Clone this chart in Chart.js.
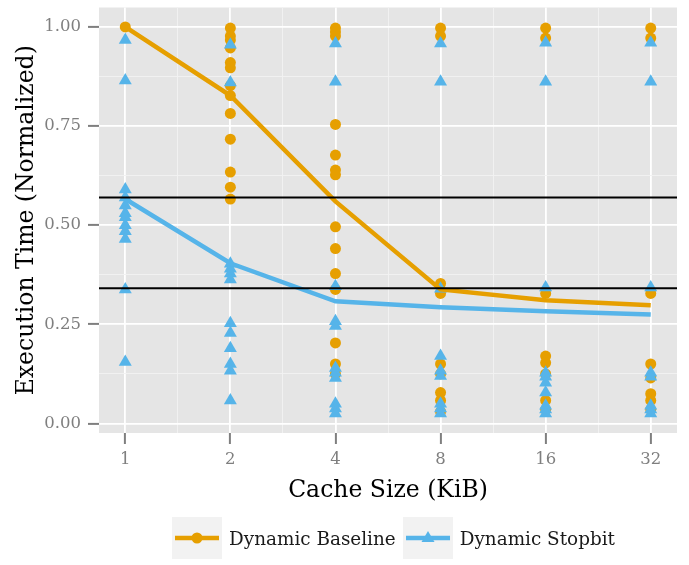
<!DOCTYPE html>
<html>
<head>
<meta charset="utf-8">
<script src="https://cdn.jsdelivr.net/npm/chart.js@4"></script>
<style>
  html, body { margin: 0; padding: 0; background: #fff; }
  #wrap { position: relative; width: 689px; height: 565px; }
  #legend { position: absolute; left: 172px; top: 517px; display: flex; align-items: center;
    font-family: 'DejaVu Serif', serif; font-size: 18.4px; color: #1a1a1a; }
  .key { width: 50px; height: 42px; margin-right: 7px; }
  .item { display: flex; align-items: center; margin-right: 7px; }
</style>
</head>
<body>
<div id="wrap">
  <canvas id="chart" width="689" height="565"></canvas>
  <div id="legend"></div>
</div>
<script>
const cacheSizes = [1, 2, 4, 8, 16, 32];
const yTicks = [0, 0.25, 0.5, 0.75, 1.0];
const refLines = [0.570, 0.341];

// individual runs, one list per cache size
const baselineRuns = [
  [1.0],
  [0.997, 0.977, 0.967, 0.947, 0.910, 0.897, 0.852, 0.827, 0.782, 0.717, 0.634, 0.596, 0.566],
  [0.997, 0.987, 0.977, 0.754, 0.677, 0.639, 0.627, 0.496, 0.441, 0.378, 0.338, 0.203, 0.150, 0.125],
  [0.997, 0.977, 0.353, 0.328, 0.150, 0.125, 0.078, 0.058, 0.030],
  [0.997, 0.972, 0.328, 0.170, 0.153, 0.125, 0.058, 0.035],
  [0.997, 0.972, 0.328, 0.150, 0.115, 0.075, 0.058, 0.035],
];
const stopbitRuns = [
  [0.967, 0.865, 0.590, 0.570, 0.550, 0.530, 0.520, 0.500, 0.485, 0.465, 0.338, 0.155],
  [0.955, 0.860, 0.403, 0.390, 0.378, 0.363, 0.253, 0.228, 0.190, 0.150, 0.133, 0.058],
  [0.958, 0.862, 0.346, 0.258, 0.246, 0.140, 0.128, 0.115, 0.050, 0.038, 0.025],
  [0.958, 0.862, 0.340, 0.170, 0.133, 0.120, 0.050, 0.038, 0.025],
  [0.960, 0.862, 0.343, 0.128, 0.118, 0.103, 0.078, 0.045, 0.035, 0.025],
  [0.960, 0.862, 0.343, 0.128, 0.118, 0.045, 0.035, 0.025],
];
const baselineMean = [1.0, 0.827, 0.560, 0.338, 0.311, 0.298];
const stopbitMean = [0.566, 0.404, 0.308, 0.293, 0.283, 0.275];

const ORANGE = '#E69F00', BLUE = '#56B4E9';
const FONT = "'DejaVu Serif', serif";

const runsToPoints = runs => runs.flatMap((vals, i) => vals.map(v => ({ x: cacheSizes[i], y: v })));
const meanToPoints = vals => vals.map((v, i) => ({ x: cacheSizes[i], y: v }));

const xMinor = cacheSizes.slice(1).map((c, i) => Math.sqrt(c * cacheSizes[i]));
const yMinor = yTicks.slice(1).map((t, i) => (t + yTicks[i]) / 2);
const isMajorX = v => cacheSizes.some(c => Math.abs(c - v) < 1e-9);
const isMajorY = v => yTicks.some(t => Math.abs(t - v) < 1e-9);

const panelBg = {
  id: 'panelBg',
  beforeDraw(chart) {
    const { ctx, chartArea: a } = chart;
    ctx.save();
    ctx.fillStyle = '#E5E5E5';
    ctx.fillRect(a.left, a.top, a.right - a.left, a.bottom - a.top);
    ctx.restore();
  }
};
const hLines = {
  id: 'hLines',
  afterDatasetsDraw(chart) {
    const { ctx, chartArea: a, scales } = chart;
    ctx.save();
    ctx.strokeStyle = '#000';
    ctx.lineWidth = 2;
    refLines.forEach(v => {
      const y = scales.y.getPixelForValue(v);
      ctx.beginPath(); ctx.moveTo(a.left, y); ctx.lineTo(a.right, y); ctx.stroke();
    });
    ctx.restore();
  }
};

Chart.defaults.font.family = FONT;

new Chart(document.getElementById('chart'), {
  type: 'scatter',
  data: {
    datasets: [
      { label: 'Dynamic Baseline', data: meanToPoints(baselineMean), showLine: true, borderColor: ORANGE, borderWidth: 4.5, pointRadius: 0, order: 1 },
      { label: 'Dynamic Stopbit', data: meanToPoints(stopbitMean), showLine: true, borderColor: BLUE, borderWidth: 4.5, pointRadius: 0, order: 1 },
      { label: 'baseline runs', data: runsToPoints(baselineRuns), pointStyle: 'circle', pointRadius: 5.5, backgroundColor: ORANGE, borderWidth: 0, order: 3 },
      { label: 'stopbit runs', data: runsToPoints(stopbitRuns), pointStyle: 'triangle', pointRadius: 7.5, backgroundColor: BLUE, borderWidth: 0, order: 2 },
    ],
  },
  options: {
    responsive: false,
    animation: false,
    layout: { padding: { left: 0, top: 5, right: 12, bottom: 62 } },
    plugins: { legend: { display: false }, tooltip: { enabled: false } },
    scales: {
      x: {
        type: 'logarithmic',
        min: Math.pow(2, -0.25), max: Math.pow(2, 5.25),
        afterBuildTicks: s => { s.ticks = [...cacheSizes, ...xMinor].sort((a, b) => a - b).map(v => ({ value: v })); },
        afterFit: s => { s.height = 70; s.paddingLeft = 0; s.paddingRight = 0; },
        border: { display: false },
        grid: {
          color: c => isMajorX(c.tick.value) ? '#FFFFFF' : '#F2F2F2',
          lineWidth: c => isMajorX(c.tick.value) ? 1.8 : 0.9,
          tickColor: c => isMajorX(c.tick.value) ? '#7F7F7F' : 'rgba(0,0,0,0)',
          tickLength: 11, tickWidth: 2,
        },
        ticks: {
          autoSkip: false, maxRotation: 0, minRotation: 0, padding: 6,
          color: '#7F7F7F', font: { size: 16.5 },
          callback: v => isMajorX(v) ? String(v) : '',
        },
        title: { display: true, text: 'Cache Size (KiB)', color: '#000', font: { size: 23.5 }, padding: { top: 0, bottom: -2 } },
      },
      y: {
        min: -0.024, max: 1.049,
        afterBuildTicks: s => { s.ticks = [...yTicks, ...yMinor].sort((a, b) => a - b).map(v => ({ value: v })); },
        afterFit: s => { s.width = 99; s.paddingTop = 0; s.paddingBottom = 0; },
        border: { display: false },
        grid: {
          color: c => isMajorY(c.tick.value) ? '#FFFFFF' : '#F2F2F2',
          lineWidth: c => isMajorY(c.tick.value) ? 1.8 : 0.9,
          tickColor: c => isMajorY(c.tick.value) ? '#7F7F7F' : 'rgba(0,0,0,0)',
          tickLength: 11, tickWidth: 2,
        },
        ticks: {
          padding: 7, color: '#7F7F7F', font: { size: 16.5 },
          callback: v => isMajorY(v) ? v.toFixed(2) : '',
        },
        title: { display: true, text: 'Execution Time (Normalized)', color: '#000', font: { size: 23.5 }, padding: { top: 13, bottom: 0 } },
      },
    },
  },
  plugins: [panelBg, hLines],
});

// legend keys in the ggplot style: grey box, line with marker
const legendItems = [
  { label: 'Dynamic Baseline', color: ORANGE, marker: '<circle cx="25" cy="21" r="5.5"/>' },
  { label: 'Dynamic Stopbit', color: BLUE, marker: '<polygon points="25,14 31.5,25 18.5,25"/>' },
];
document.getElementById('legend').innerHTML = legendItems.map(it => `
  <div class="item"><svg class="key" width="50" height="42"><rect width="50" height="42" fill="#F2F2F2"/>
  <line x1="3" y1="21" x2="47" y2="21" stroke="${it.color}" stroke-width="4.5"/>
  <g fill="${it.color}">${it.marker}</g></svg><span>${it.label}</span></div>`).join('');
</script>
</body>
</html>
